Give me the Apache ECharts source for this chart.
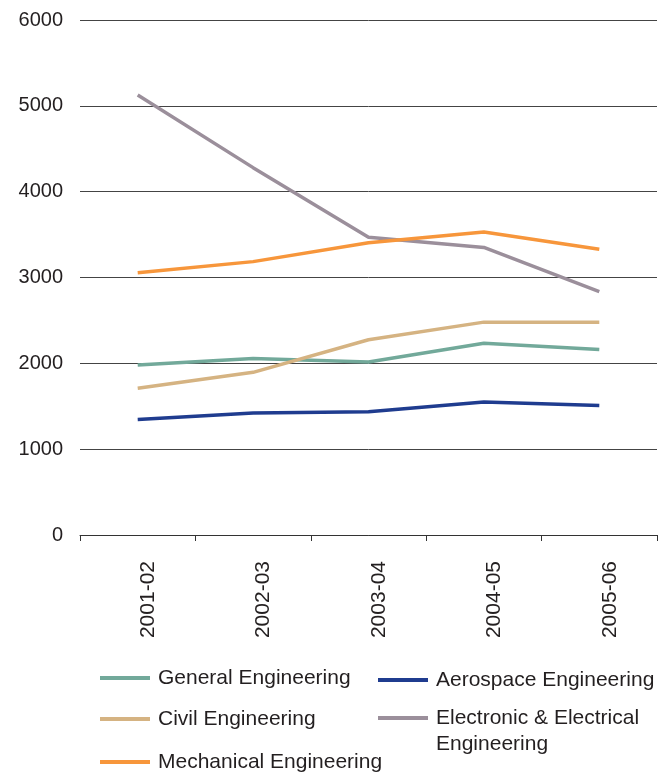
<!DOCTYPE html>
<html>
<head>
<meta charset="utf-8">
<script src="https://cdn.jsdelivr.net/npm/echarts@6/dist/echarts.min.js"></script>
<style>
html,body{margin:0;padding:0;background:#fff;}
#chart{width:672px;height:774px;}
</style>
</head>
<body>
<div id="chart"></div>
<script>
const categories = ['2001-02','2002-03','2003-04','2004-05','2005-06'];
const yTicks = [0,1000,2000,3000,4000,5000,6000];
const generalEng = [1980, 2055, 2015, 2235, 2160];
const aerospaceEng = [1345, 1420, 1435, 1550, 1510];
const civilEng = [1710, 1895, 2275, 2480, 2480];
const electronicEng = [5125, 4280, 3470, 3350, 2835];
const mechanicalEng = [3055, 3185, 3405, 3530, 3330];

const names = ['General Engineering','Aerospace Engineering','Civil Engineering','Electronic & Electrical\nEngineering','Mechanical Engineering'];
const colors = ['#72a99a','#1f3c8f','#d5b382','#9b8f9b','#f7963b'];
const dataSets = [generalEng, aerospaceEng, civilEng, electronicEng, mechanicalEng];

const font = 'Liberation Sans, Arial, sans-serif';
const textColor = '#231f20';

const legendPos = [
  {left:100, top:665, lead:false},
  {left:378, top:667, lead:false},
  {left:100, top:706, lead:false},
  {left:378, top:679, lead:true},
  {left:100, top:749, lead:false}
];

const chart = echarts.init(document.getElementById('chart'));
chart.setOption({
  animation:false,
  backgroundColor:'#fff',
  grid:{left:80, right:15, top:20, bottom:239, containLabel:false},
  xAxis:{
    type:'category',
    data:categories,
    boundaryGap:true,
    axisLine:{show:true, lineStyle:{color:'#333', width:1}},
    axisTick:{show:true, length:6, lineStyle:{color:'#333'}},
    axisLabel:{rotate:90, margin:26, fontSize:21, color:textColor, fontFamily:font, verticalAlign:'top'},
    splitLine:{show:false}
  },
  yAxis:{
    type:'value',
    min:yTicks[0], max:yTicks[yTicks.length-1], interval:1000,
    axisLine:{show:false},
    axisTick:{show:false},
    axisLabel:{fontSize:20, color:textColor, fontFamily:font, margin:17, formatter:v=>String(v)},
    splitLine:{show:true, lineStyle:{color:'#444', width:1}}
  },
  legend: names.map((n,i)=>({
    data:[n],
    left:legendPos[i].left, top:legendPos[i].top,
    padding:0,
    itemWidth:50, itemHeight:4, icon:'rect', itemGap:8,
    formatter: legendPos[i].lead ? (nm => ' \n' + nm) : (nm => nm),
    textStyle:{fontSize:21, color:textColor, fontFamily:font, lineHeight:26, padding:[0,0,0,3]},
    selectedMode:false
  })),
  series: names.map((n,i)=>({
    name:n, type:'line', data:dataSets[i],
    symbol:'none', smooth:false,
    lineStyle:{color:colors[i], width:3.5},
    itemStyle:{color:colors[i]}
  }))
});
</script>
</body>
</html>
